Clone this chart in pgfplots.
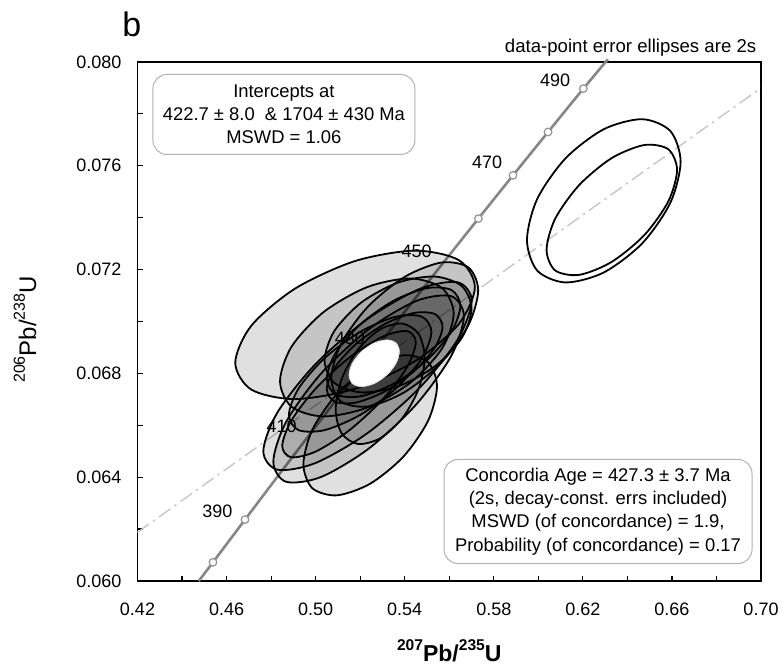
\documentclass[border=0pt]{standalone}
\usepackage{fontspec}
\setmainfont{Liberation Sans}
\usepackage{pgfplots}
\pgfplotsset{compat=1.18}
\newcommand\ticklab{\fontsize{9}{10.5}\selectfont}
\newcommand\boxfont{\fontsize{9.2}{11.6}\selectfont}
\begin{document}
\begin{tikzpicture}
\begin{axis}[name=ax,
  width=311.75pt, height=259.5pt, scale only axis,
  xmin=0.42, xmax=0.70, ymin=0.060, ymax=0.080,
  clip=false,
  xtick={0.42,0.46,0.50,0.54,0.58,0.62,0.66,0.70},
  minor xtick={0.44,0.48,0.52,0.56,0.60,0.64,0.68},
  ytick={0.060,0.064,0.068,0.072,0.076,0.080},
  minor ytick={0.062,0.066,0.070,0.074,0.078},
  scaled ticks=false,
  tick align=inside, tick pos=left,
  major tick length=2.6pt, minor tick length=2.6pt,
  every tick/.style={black, line width=0.6pt},
  every minor tick/.style={black, line width=0.6pt},
  axis line style={line width=0.8pt},
  /pgf/number format/assume math mode=true,
  ticklabel style={font=\ticklab},
  xticklabel style={/pgf/number format/.cd, fixed, fixed zerofill, precision=2, /tikz/.cd, yshift=-7.35pt},
  yticklabel style={/pgf/number format/.cd, fixed, fixed zerofill, precision=3, /tikz/.cd, xshift=-4.5pt},
  ell/.style={draw=black, line width=0.9pt, fill=black, fill opacity=0.12, draw opacity=1, smooth cycle, mark=none},
]
% discordia
\addplot[gray!45, line width=0.7pt, dash pattern=on 7pt off 2.5pt on 1.2pt off 2.5pt] coordinates {(0.42,0.061877) (0.70,0.078999)};
% concordia
\addplot[gray!95!white, line width=1.3pt, smooth] coordinates {
(0.4475,0.0600) (0.45389,0.060720) (0.46828,0.062366) (0.48281,0.064016) (0.49749,0.065667)
(0.51231,0.067322) (0.52728,0.068979) (0.54239,0.070638) (0.55766,0.072301) (0.57307,0.073965)
(0.58864,0.075633) (0.60437,0.077302) (0.62024,0.078975) (0.6312,0.0801)};
\addplot[only marks, mark=*, mark size=1.9pt, mark options={fill=white, draw=gray!85, line width=0.6pt}] coordinates {
(0.45389,0.060720) (0.46828,0.062366) (0.57307,0.073965) (0.58864,0.075633) (0.60437,0.077302) (0.62024,0.078975)};
% data-point error ellipses
\addplot[ell] coordinates {(0.5715,0.07133) (0.5643,0.072364) (0.5446,0.07273) (0.5177,0.07233) (0.4908,0.07127) (0.4711,0.069836) (0.4639,0.06841) (0.4711,0.067376) (0.4908,0.06701) (0.5177,0.06741) (0.5446,0.06847) (0.5643,0.069904)};
\addplot[ell] coordinates {(0.5545,0.0675) (0.5505,0.068424) (0.5395,0.068699) (0.5245,0.06825) (0.5095,0.067199) (0.4985,0.065826) (0.4945,0.0645) (0.4985,0.063576) (0.5095,0.063301) (0.5245,0.06375) (0.5395,0.064801) (0.5505,0.066174)};
\addplot[ell] coordinates {(0.5701,0.0708) (0.5638,0.071511) (0.5467,0.071255) (0.5233,0.0701) (0.4999,0.068355) (0.4828,0.066489) (0.4765,0.065) (0.4828,0.064289) (0.4999,0.064545) (0.5233,0.0657) (0.5467,0.067445) (0.5638,0.069311)};
\addplot[ell] coordinates {(0.5666,0.0702) (0.5609,0.070975) (0.5452,0.070792) (0.5238,0.0697) (0.5024,0.067992) (0.4867,0.066125) (0.4810,0.0646) (0.4867,0.063825) (0.5024,0.064008) (0.5238,0.0651) (0.5452,0.066808) (0.5609,0.068675)};
\addplot[ell] coordinates {(0.5730,0.0712) (0.5686,0.072082) (0.5565,0.072273) (0.5400,0.07172) (0.5235,0.070573) (0.5114,0.069138) (0.5070,0.0678) (0.5114,0.066918) (0.5235,0.066727) (0.5400,0.06728) (0.5565,0.068427) (0.5686,0.069862)};
\addplot[ell] coordinates {(0.5620,0.0703) (0.5568,0.071286) (0.5425,0.071659) (0.5230,0.07132) (0.5035,0.070359) (0.4892,0.069034) (0.4840,0.0677) (0.4892,0.066714) (0.5035,0.066341) (0.5230,0.06668) (0.5425,0.067641) (0.5568,0.068966)};
\addplot[ell] coordinates {(0.5650,0.0706) (0.5610,0.071212) (0.5500,0.071286) (0.5350,0.0708) (0.5200,0.069886) (0.5090,0.068788) (0.5050,0.0678) (0.5090,0.067188) (0.5200,0.067114) (0.5350,0.0676) (0.5500,0.068514) (0.5610,0.069612)};
\addplot[ell] coordinates {(0.5520,0.0696) (0.5477,0.070186) (0.5360,0.070186) (0.5200,0.0696) (0.5040,0.068586) (0.4923,0.067414) (0.4880,0.0664) (0.4923,0.065814) (0.5040,0.065814) (0.5200,0.0664) (0.5360,0.067414) (0.5477,0.068586)};
\addplot[ell] coordinates {(0.5570,0.0698) (0.5535,0.070289) (0.5440,0.070326) (0.5310,0.0699) (0.5180,0.069126) (0.5085,0.068211) (0.5050,0.0674) (0.5085,0.066911) (0.5180,0.066874) (0.5310,0.0673) (0.5440,0.068074) (0.5535,0.068989)};
\addplot[ell] coordinates {(0.5700,0.0705) (0.5656,0.071366) (0.5535,0.071732) (0.5370,0.0715) (0.5205,0.070732) (0.5084,0.069634) (0.5040,0.0685) (0.5084,0.067634) (0.5205,0.067268) (0.5370,0.0675) (0.5535,0.068268) (0.5656,0.069366)};
\addplot[ell] coordinates {(0.5450,0.0692) (0.5410,0.069632) (0.5300,0.069412) (0.5150,0.0686) (0.5000,0.067412) (0.4890,0.066168) (0.4850,0.0652) (0.4890,0.064768) (0.5000,0.064988) (0.5150,0.0658) (0.5300,0.066988) (0.5410,0.068232)};
\addplot[ell] coordinates {(0.5490,0.0686) (0.5463,0.069516) (0.5390,0.069919) (0.5290,0.0697) (0.5190,0.068919) (0.5117,0.067784) (0.5090,0.0666) (0.5117,0.065684) (0.5190,0.065281) (0.5290,0.0655) (0.5390,0.066281) (0.5463,0.067416)};
% concordia age ellipse
\addplot[fill=white, draw=gray!25, line width=0.4pt, smooth cycle] coordinates {(0.5376,0.06884) (0.5361,0.06917) (0.5320,0.06929) (0.5263,0.06917) (0.5206,0.06884) (0.5165,0.06839) (0.5150,0.06794) (0.5165,0.06761) (0.5206,0.06749) (0.5263,0.06761) (0.5320,0.06794) (0.5361,0.06839)};
% rejected (open) ellipses
\addplot[draw=black, line width=0.9pt, smooth cycle] coordinates {(0.6639,0.07616) (0.6593,0.077338) (0.6467,0.077795) (0.6294,0.07741) (0.6122,0.076285) (0.5995,0.074722) (0.5949,0.07314) (0.5995,0.071962) (0.6122,0.071505) (0.6294,0.07189) (0.6467,0.073015) (0.6593,0.074578)};
\addplot[draw=black, line width=0.9pt, smooth cycle] coordinates {(0.6623,0.07584) (0.6584,0.076634) (0.6477,0.076802) (0.6330,0.0763) (0.6184,0.075262) (0.6076,0.073966) (0.6037,0.07276) (0.6076,0.071966) (0.6184,0.071798) (0.6330,0.0723) (0.6477,0.073338) (0.6584,0.074634)};
% age labels
\addplot[draw=none, mark=none, nodes near coords, point meta=explicit symbolic,
  nodes near coords style={anchor=center, font=\ticklab, text=black, inner sep=0pt}] coordinates {
(0.4559,0.06267) [390] (0.4847,0.06595) [410] (0.5154,0.06935) [430] (0.5454,0.0727) [450] (0.5770,0.07614) [470] (0.6075,0.0793) [490]};
\end{axis}
% boxes
\node[draw=gray!60, line width=0.5pt, rounded corners=7pt, fill=white, minimum width=131pt, minimum height=40pt,
  anchor=north west, align=center, font=\boxfont, inner sep=2pt] at ([xshift=7.45pt, yshift=-6pt]ax.north west)
  {Intercepts at\\422.7 ± 8.0 \ \& 1704 ± 430 Ma\\MSWD = 1.06};
\node[draw=gray!60, line width=0.5pt, rounded corners=7pt, fill=white, minimum width=154pt, minimum height=52pt,
  anchor=south east, align=center, font=\boxfont, inner sep=2pt] at ([xshift=-4.25pt, yshift=8.5pt]ax.south east)
  {Concordia Age = 427.3 ± 3.7 Ma\\(2s, decay-const. errs included)\\MSWD (of concordance) = 1.9,\\Probability (of concordance) = 0.17};
% outer texts
\node[anchor=base west, inner sep=0pt, font=\fontsize{17}{18}\selectfont] at ([xshift=-7.75pt, yshift=12.5pt]ax.north west) {b};
\node[anchor=base east, inner sep=0pt, font=\fontsize{9.3}{11}\selectfont] at ([xshift=-2.2pt, yshift=4.5pt]ax.north east) {data-point error ellipses are 2s};
\node[anchor=base, inner sep=0pt] at ([yshift=-40pt]ax.south)
  {\bfseries\fontsize{11.5}{13}\selectfont\raisebox{5.5pt}{\fontsize{7.8}{8}\selectfont 207}Pb/\raisebox{5.5pt}{\fontsize{7.8}{8}\selectfont 235}U};
\node[anchor=center, inner sep=0pt, rotate=90] at ([xshift=-56.25pt, yshift=-4pt]ax.west)
  {\fontsize{12}{14}\selectfont\raisebox{5.6pt}{\fontsize{8}{9}\selectfont 206}Pb/\raisebox{5.6pt}{\fontsize{8}{9}\selectfont 238}U};
\pgfresetboundingbox
\useasboundingbox ([xshift=-68.75pt, yshift=-43pt]ax.south west) rectangle ([xshift=11.5pt, yshift=31pt]ax.north east);
\end{tikzpicture}
\end{document}
